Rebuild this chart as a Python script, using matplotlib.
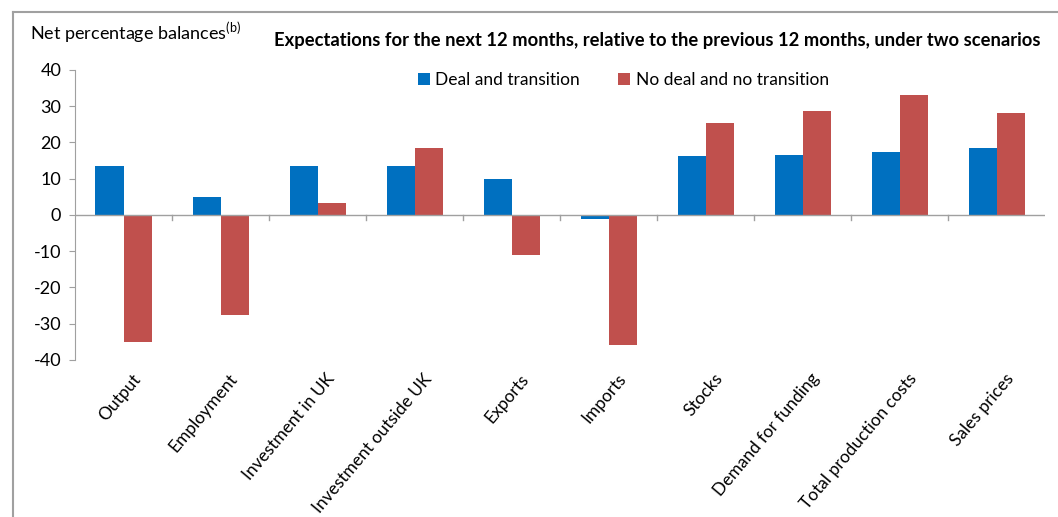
import numpy as np
import matplotlib.pyplot as plt
import matplotlib.ticker as ticker
from matplotlib.lines import Line2D

# ── Data ─────────────────────────────────────────────────────
categories = ["Output", "Employment", "Investment in UK", "Investment outside UK",
              "Exports", "Imports", "Stocks", "Demand for funding",
              "Total production costs", "Sales prices"]
deal       = [13.5, 5.0, 13.5, 13.5, 10.0, -1.2, 16.2, 16.5, 17.3, 18.3]
no_deal    = [-35.0, -27.5, 3.3, 18.5, -11.0, -36.0, 25.3, 28.7, 33.0, 28.2]
yticks     = [-40, -30, -20, -10, 0, 10, 20, 30, 40]

BLUE = "#0070C0"
RED  = "#C0504D"
plt.rcParams["font.family"] = ["Lato", "DejaVu Sans"]

fig = plt.figure(figsize=(10.58, 5.17), dpi=100)
ax = fig.add_axes([0.071, 0.304, 0.917, 0.561])

x = np.arange(len(categories))
w = 0.29
ax.bar(x - w / 2, deal, w, color=BLUE, label="Deal and transition")
ax.bar(x + w / 2, no_deal, w, color=RED, label="No deal and no transition")

ax.set_xlim(-0.5, len(categories) - 0.5)
ax.set_ylim(-40, 40)
ax.set_yticks(yticks)
ax.yaxis.set_major_formatter(ticker.FuncFormatter(lambda v, p: f"{v:.0f}"))
ax.tick_params(axis="y", labelsize=13, length=4, color="#a0a0a0", pad=6)

# category boundaries as ticks hanging from the zero line
ax.set_xticks([])
for b in np.arange(0.5, len(categories) - 0.5, 1):
    ax.plot([b, b], [0, -1.4], color="#a0a0a0", lw=1, clip_on=False)
ax.axhline(0, color="#a0a0a0", lw=1)

for xi, lab in zip(x, categories):
    ax.text(xi + 0.08, -43, lab, rotation=50, ha="right", va="top",
            rotation_mode="anchor", fontsize=12.5)

for s in ["top", "right", "bottom"]:
    ax.spines[s].set_visible(False)
ax.spines["left"].set_color("#a0a0a0")

ax.legend(loc="upper center", bbox_to_anchor=(0.565, 1.045), ncol=2, frameon=False,
          fontsize=12.5, handlelength=0.7, handleheight=0.7, handletextpad=0.3,
          columnspacing=2.2)

fig.text(0.028, 0.935, "Net percentage balances$^{\\mathregular{(b)}}$", fontsize=13,
         va="center")
fig.text(0.983, 0.921, "Expectations for the next 12 months, relative to the previous 12 months, under two scenarios",
         fontsize=13.2, fontweight="bold", ha="right", va="center")

# picture frame (left and top edges)
fig.add_artist(Line2D([0.012, 0.012], [0.0, 0.977], color="#a0a0a0", lw=1.5))
fig.add_artist(Line2D([0.012, 1.0], [0.977, 0.977], color="#a0a0a0", lw=1.5))

fig.savefig("out.png", dpi=100)
